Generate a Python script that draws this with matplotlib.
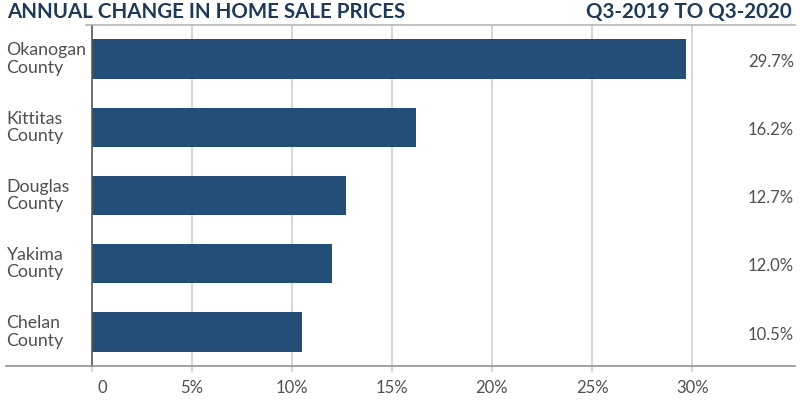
import matplotlib.pyplot as plt
from matplotlib.lines import Line2D
from matplotlib.transforms import ScaledTranslation, blended_transform_factory

plt.rcParams['font.family'] = ['Lato', 'DejaVu Sans']

counties = ['Okanogan\nCounty', 'Kittitas\nCounty', 'Douglas\nCounty',
            'Yakima\nCounty', 'Chelan\nCounty']
changes = [29.7, 16.2, 12.7, 12.0, 10.5]
value_labels = ['29.7%', '16.2%', '12.7%', '12.0%', '10.5%']
tick_values = [0, 5, 10, 15, 20, 25, 30]
tick_labels = ['0', '5%', '10%', '15%', '20%', '25%', '30%']

bar_color = '#224e78'
title_color = '#1b3a5c'
text_color = '#505050'
grid_color = '#cfcfcf'

fig = plt.figure(figsize=(8, 4.07), dpi=100)
ax = fig.add_axes([0.1146, 0.1007, 0.8794, 0.8379])

ypos = list(range(len(counties)))
ax.barh(ypos, changes, height=0.576, color=bar_color, zorder=3)
ax.set_ylim(4.5, -0.5)
ax.set_xlim(0, 35.15)

for s in ['top', 'right', 'bottom']:
    ax.spines[s].set_visible(False)
ax.spines['left'].set_color('#5a5a5a')
ax.spines['left'].set_linewidth(1.2)
ax.spines['left'].set_zorder(4)

ax.set_xticks(tick_values)
ax.set_xticklabels(tick_labels)
ax.tick_params(axis='x', length=4, color=grid_color, width=1.2,
               labelsize=12, labelcolor=text_color, pad=6)
ax.set_yticks([])
ax.xaxis.grid(True, color=grid_color, linewidth=1.2, zorder=0)
for t in ax.get_xticklabels()[:1]:
    t.set_transform(t.get_transform() + ScaledTranslation(11 / 100, 0, fig.dpi_scale_trans))

# category labels at the left edge, values at the right edge
trans = blended_transform_factory(fig.transFigure, ax.transData)
for y, name, lab in zip(ypos, counties, value_labels):
    ax.text(6 / 800, y, name, transform=trans, fontsize=12.8, color=text_color,
            ha='left', va='center', linespacing=1.1, clip_on=False)
    ax.text(794 / 800, y + 0.04, lab, transform=trans, fontsize=12, color=text_color,
            ha='right', va='center', clip_on=False)

# frame lines across the figure
fig.add_artist(Line2D([86 / 800, 795 / 800], [1 - 25 / 407] * 2, color='#b5b5b5', lw=1.2))
fig.add_artist(Line2D([6 / 800, 795 / 800], [1 - 366 / 407] * 2, color='#8c9199', lw=1.2))

fig.text(7 / 800, 1 - 12 / 407, 'ANNUAL CHANGE IN HOME SALE PRICES', color=title_color,
         fontsize=14.8, fontweight='bold', va='center', ha='left')
fig.text(792 / 800, 1 - 12 / 407, 'Q3-2019 TO Q3-2020', color=title_color,
         fontsize=14.8, fontweight='bold', va='center', ha='right')

plt.savefig('out.png', dpi=100)
